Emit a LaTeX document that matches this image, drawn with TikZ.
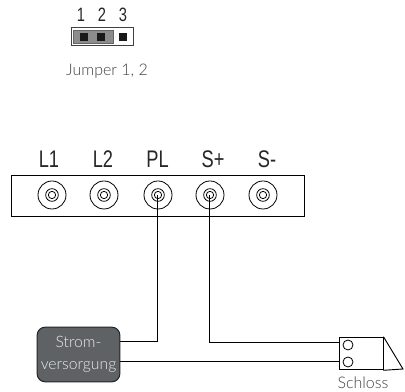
\documentclass[tikz,border=0pt]{standalone}
\usepackage{fontspec}
\setmainfont{Lato Light}
\newfontfamily\labelfont[FakeStretch=0.76]{Liberation Sans}
\usetikzlibrary{positioning, calc}
\definecolor{boxgray}{HTML}{5F6265}
\definecolor{pingray}{HTML}{8C8C8C}
\definecolor{textgray}{HTML}{404040}
\tikzset{
  wire/.style={line width=0.75pt},
  termlabel/.style={font=\labelfont\fontsize{18}{20}\selectfont, text=black!85},
  numlabel/.style={font=\labelfont\fontsize{14.5}{16}\selectfont, text=black!85},
  smalllabel/.style={font=\fontsize{12}{14}\selectfont, text=textgray},
  pin/.style={draw=none, fill=black!90, minimum size=6pt, inner sep=0pt},
  ring/.style={circle, draw, line width=0.6pt, inner sep=0pt},
}
\begin{document}
\begin{tikzpicture}[x=0.75pt, y=-0.75pt]
      \useasboundingbox (0, 0) rectangle (405, 392);

      % jumper
      \node[draw=black!75, line width=0.8pt, minimum width=47pt, minimum height=14pt, inner sep=0pt] (jumper) at (102.5, 36.5) {};
      \node[draw=black!60, line width=0.3pt, fill=pingray, minimum width=30pt, minimum height=9.75pt, inner sep=0pt] (bridge) at (93, 36.5) {};
      \node[pin] (pinA) at (84, 36.7) {};
      \node[pin] (pinB) at (101, 36.7) {};
      \node[pin] (pinC) at (123, 36.7) {};
      \node[numlabel] (numA) at (81, 15) {1};
      \node[numlabel] (numB) at (102, 15) {2};
      \node[numlabel] (numC) at (123, 15) {3};
      \node[smalllabel] (jumpertext) at (107, 71) {Jumper 1, 2};

      % terminal strip
      \node[draw, line width=0.7pt, minimum width=219.75pt, minimum height=30.75pt, inner sep=0pt] (strip) at (157.5, 195.5) {};
      \foreach \x/\lx/\name/\txt in {52/49/La/L1, 104/103/Lb/L2, 158/157.5/PL/PL, 210/213/Sp/S+, 263/267/Sm/S-} {
        \node[ring, minimum size=21pt] (\name) at (\x, 195) {};
        \node[ring, minimum size=9.5pt] at (\name) {};
        \node[ring, minimum size=5.5pt] at (\name) {};
        \node[termlabel] (\name text) at (\lx, 159) {\txt};
      }

      % power supply
      \node[draw=black!85, line width=0.8pt, fill=boxgray, rounded corners=6pt, minimum width=62pt, minimum height=41pt, inner sep=0pt, align=center, text=black!8, font=\fontsize{11.8}{17}\selectfont] (supply) at (78.5, 354.5) {Strom-\\versorgung};

      % lock
      \node[draw, line width=0.7pt, minimum width=33pt, minimum height=24.5pt, inner sep=0pt] (lock) at (361, 353.5) {};
      \node[ring, minimum size=7.5pt] (holeA) at (348, 345) {};
      \node[ring, minimum size=7.5pt] (holeB) at (348, 362) {};
      \coordinate (tip) at (403, 369);
      \draw[line width=0.7pt] (lock.north east) -- (tip) -- (lock.south east);
      \node[smalllabel] (locktext) at (363, 383) {Schloss};

      % wires
      \coordinate (supplyA) at (supply.east |- 0, 342);
      \coordinate (supplyB) at (supply.east |- 0, 362);
      \coordinate (lockA) at (lock.west |- 0, 343);
      \coordinate (lockB) at (lock.west |- 0, 362);
      \draw[wire] (PL.center) |- (supplyA);
      \draw[wire] (Sp.center) |- (lockA);
      \draw[wire] (supplyB) -- (lockB);
    \end{tikzpicture}
\end{document}
